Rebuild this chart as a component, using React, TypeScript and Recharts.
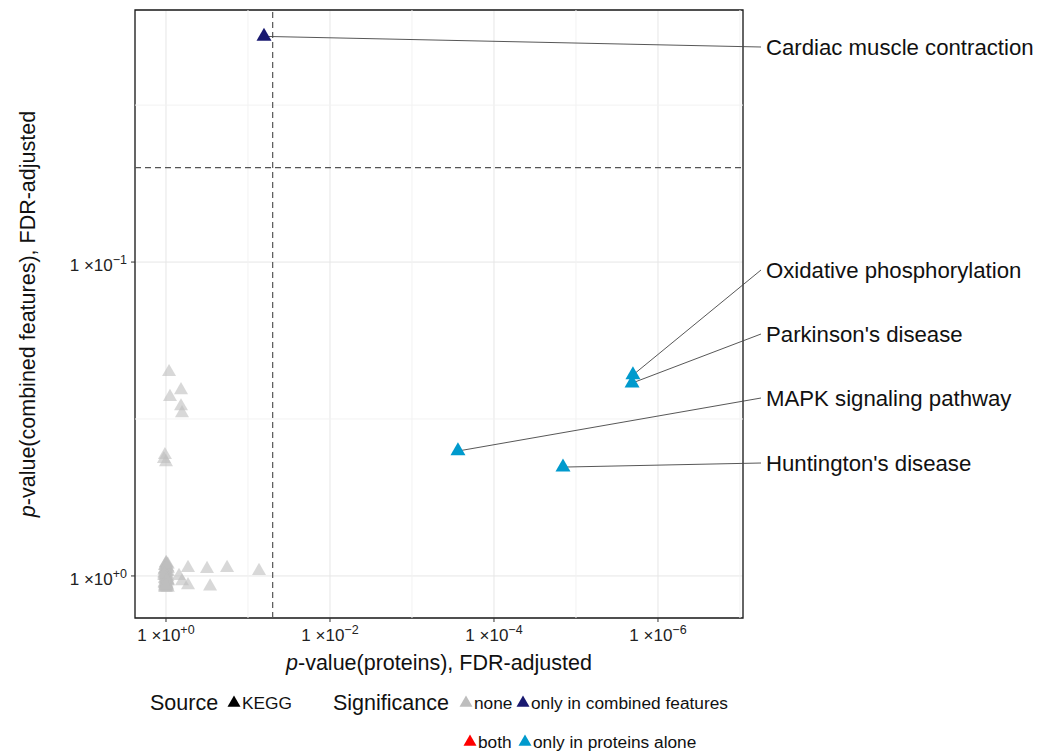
import React from "react";
import {
  ScatterChart,
  Scatter,
  XAxis,
  YAxis,
  CartesianGrid,
  ReferenceLine,
  ReferenceArea,
} from "recharts";

const FONT = "'Liberation Sans', Arial, Helvetica, sans-serif";

// KEGG pathways that are significant nowhere (FDR-adjusted p-values)
const noneProteinP = [
  0.918, 0.656, 0.894, 0.656, 0.638, 1.03, 1.06, 1.0,
  0.539, 0.316, 0.18, 0.0734, 0.694, 0.638, 0.539, 0.29,
  1.0, 0.98, 1.03, 0.96, 1.01, 0.95, 1.04, 0.99, 1.02, 0.97,
  1.05, 1.0, 0.96, 1.03, 0.98, 1.01, 0.94, 1.02, 0.99, 1.04,
  0.97, 1.0, 1.03, 0.95, 1.01, 0.98, 1.02, 0.96, 1.0, 1.04,
  0.99, 1.01, 0.97, 1.03, 0.95, 1.05, 1.0, 0.98, 1.02, 0.96,
  1.04, 0.99, 1.01, 0.97, 1.03, 1.0, 0.95, 1.05, 0.98, 1.02,
];
const noneCombinedP = [
  0.224, 0.256, 0.269, 0.288, 0.303, 0.412, 0.424, 0.434,
  0.943, 0.95, 0.943, 0.964, 1.0, 1.04, 1.07, 1.08,
  0.91, 0.92, 0.93, 0.94, 0.95, 0.95, 0.96, 0.97, 0.98, 0.99,
  1.0, 1.0, 1.01, 1.02, 1.02, 1.03, 1.04, 1.05, 1.05, 1.06,
  1.07, 1.08, 1.08, 1.09, 0.93, 0.97, 1.0, 1.03, 1.06, 0.96,
  0.91, 0.92, 0.94, 0.95, 0.97, 0.98, 0.99, 1.01, 1.02, 1.04,
  1.05, 1.06, 1.07, 1.08, 1.09, 1.09, 0.92, 0.99, 1.03, 1.07,
];

// named pathways
const namedPathways = [
  "Cardiac muscle contraction",
  "Oxidative phosphorylation",
  "Parkinson's disease",
  "MAPK signaling pathway",
  "Huntington's disease",
];
const namedProteinP = [0.0638, 2.02e-6, 2.07e-6, 2.75e-4, 1.44e-5];
const namedCombinedP = [0.0191, 0.229, 0.243, 0.4, 0.45];
const namedSignificance = [
  "only in combined features",
  "only in proteins alone",
  "only in proteins alone",
  "only in proteins alone",
  "only in proteins alone",
];

const significanceLevels = ["none", "only in combined features", "both", "only in proteins alone"];
const FDR_CUTOFF = 0.05;

const xTicks = [0, 2, 4, 6];
const yTicks = [0, 1];
const xMinor = [1, 3, 5, 7];
const yMinor = [0.5, 1.5];

const colors: Record<string, string> = {
  none: "#BEBEBE",
  both: "#FF0000",
  "only in combined features": "#191970",
  "only in proteins alone": "#009ACD",
};

// label text rows on the right (pixel y of each label)
const LABEL_X = 761;
const labelRowY: Record<string, number> = {
  "Cardiac muscle contraction": 47,
  "Oxidative phosphorylation": 270,
  "Parkinson's disease": 334,
  "MAPK signaling pathway": 398,
  "Huntington's disease": 463,
};

const X_DOMAIN: [number, number] = [-0.378, 7.037];
const Y_DOMAIN: [number, number] = [-0.134, 1.803];

const nlog = (p: number) => -Math.log10(p);

const noneData = noneProteinP.map((p, i) => ({ x: nlog(p), y: nlog(noneCombinedP[i]) }));
const namedData = namedPathways.map((name, i) => ({
  name,
  x: nlog(namedProteinP[i]),
  y: nlog(namedCombinedP[i]),
  sig: namedSignificance[i],
}));

const Triangle = ({ cx, cy, fill, opacity = 1, side = 15 }: any) => {
  const h = (side * Math.sqrt(3)) / 2;
  return (
    <polygon
      points={`${cx},${cy - (2 * h) / 3} ${cx - side / 2},${cy + h / 3} ${cx + side / 2},${cy + h / 3}`}
      fill={fill}
      fillOpacity={opacity}
    />
  );
};

const expText = (v: number) => (v === 0 ? "+0" : `\u2212${v}`);

const XTick = ({ x, y, payload }: any) => (
  <text x={x} y={y + 17} textAnchor="middle" fontFamily={FONT} fontSize={17} fill="#222">
    1 ×10
    <tspan dy={-7} fontSize={12.5}>{expText(payload.value)}</tspan>
  </text>
);

const YTick = ({ x, y, payload }: any) => (
  <text x={x - 2} y={y + 9} textAnchor="end" fontFamily={FONT} fontSize={17} fill="#222">
    1 ×10
    <tspan dy={-7} fontSize={12.5}>{expText(payload.value)}</tspan>
  </text>
);

const XTitle = ({ viewBox }: any) => (
  <text x={viewBox.x + viewBox.width / 2} y={670} textAnchor="middle" fontFamily={FONT} fontSize={21.5} fill="#111">
    <tspan fontStyle="italic">p</tspan>-value(proteins), FDR-adjusted
  </text>
);

const YTitle = ({ viewBox }: any) => {
  const cy = viewBox.y + viewBox.height / 2;
  return (
    <text x={35} y={cy} transform={`rotate(-90, 35, ${cy})`} textAnchor="middle" fontFamily={FONT} fontSize={21.5} fill="#111">
      <tspan fontStyle="italic">p</tspan>-value(combined features), FDR-adjusted
    </text>
  );
};

const LeaderLabel = ({ cx, cy, payload }: any) => {
  const ly = labelRowY[payload.name];
  return (
    <g>
      <line x1={cx} y1={cy} x2={LABEL_X} y2={ly} stroke="#444" strokeWidth={0.9} />
      <text x={LABEL_X + 5} y={ly + 7.5} fontFamily={FONT} fontSize={22.2} fill="#111">
        {payload.name}
      </text>
    </g>
  );
};

const LegendTri = ({ x, y, fill }: any) => <Triangle cx={x} cy={y} fill={fill} side={13} />;

const Legend = () => (
  <svg width={1039} height={751} style={{ position: "absolute", left: 0, top: 0, pointerEvents: "none" }}>
    <g fontFamily={FONT} fill="#111">
      <text x={150} y={710} fontSize={21.5}>Source</text>
      <LegendTri x={234} y={703} fill="#000" />
      <text x={242} y={709} fontSize={17.3}>KEGG</text>
      <text x={333} y={710} fontSize={21.5}>Significance</text>
      <LegendTri x={466} y={703} fill={colors[significanceLevels[0]]} />
      <text x={474} y={709} fontSize={17.3}>{significanceLevels[0]}</text>
      <LegendTri x={523} y={703} fill={colors[significanceLevels[1]]} />
      <text x={531} y={709} fontSize={17.3}>{significanceLevels[1]}</text>
      <LegendTri x={470} y={742} fill={colors[significanceLevels[2]]} />
      <text x={478} y={748} fontSize={17.3}>{significanceLevels[2]}</text>
      <LegendTri x={525} y={742} fill={colors[significanceLevels[3]]} />
      <text x={533} y={748} fontSize={17.3}>{significanceLevels[3]}</text>
    </g>
  </svg>
);

export default function App() {
  return (
    <div style={{ position: "absolute", left: 0, top: 0, width: 1039, height: 751, background: "#fff" }}>
      <ScatterChart width={1039} height={751} margin={{ top: 10, right: 296, bottom: 0, left: 0 }}>
        {xMinor.map((v) => (
          <ReferenceLine key={`xm${v}`} x={v} stroke="#F2F2F2" strokeWidth={1} />
        ))}
        {yMinor.map((v) => (
          <ReferenceLine key={`ym${v}`} y={v} stroke="#F2F2F2" strokeWidth={1} />
        ))}
        <CartesianGrid stroke="#E6E6E6" strokeWidth={1} />
        <XAxis
          type="number"
          dataKey="x"
          domain={X_DOMAIN}
          ticks={xTicks}
          interval={0}
          height={133}
          axisLine={false}
          tickSize={4}
          tickLine={{ stroke: "#333" }}
          tick={(p: any) => <XTick {...p} />}
          label={{ content: (p: any) => <XTitle {...p} /> }}
        />
        <YAxis
          type="number"
          dataKey="y"
          domain={Y_DOMAIN}
          ticks={yTicks}
          interval={0}
          width={135}
          axisLine={false}
          tickSize={4}
          tickLine={{ stroke: "#333" }}
          tick={(p: any) => <YTick {...p} />}
          label={{ content: (p: any) => <YTitle {...p} /> }}
        />
        <ReferenceLine x={nlog(FDR_CUTOFF)} stroke="#555" strokeWidth={1.2} strokeDasharray="6 4" />
        <ReferenceLine y={nlog(FDR_CUTOFF)} stroke="#555" strokeWidth={1.2} strokeDasharray="6 4" />
        <Scatter
          data={noneData}
          isAnimationActive={false}
          shape={(p: any) => <Triangle cx={p.cx} cy={p.cy} fill={colors.none} opacity={0.6} side={14} />}
        />
        <Scatter data={namedData} isAnimationActive={false} shape={(p: any) => <LeaderLabel {...p} />} />
        <Scatter
          data={namedData}
          isAnimationActive={false}
          shape={(p: any) => <Triangle cx={p.cx} cy={p.cy} fill={colors[p.payload.sig]} side={15} />}
        />
        <ReferenceArea
          x1={X_DOMAIN[0]}
          x2={X_DOMAIN[1]}
          y1={Y_DOMAIN[0]}
          y2={Y_DOMAIN[1]}
          fill="none"
          stroke="#1a1a1a"
          strokeWidth={1.3}
        />
      </ScatterChart>
      <Legend />
    </div>
  );
}
